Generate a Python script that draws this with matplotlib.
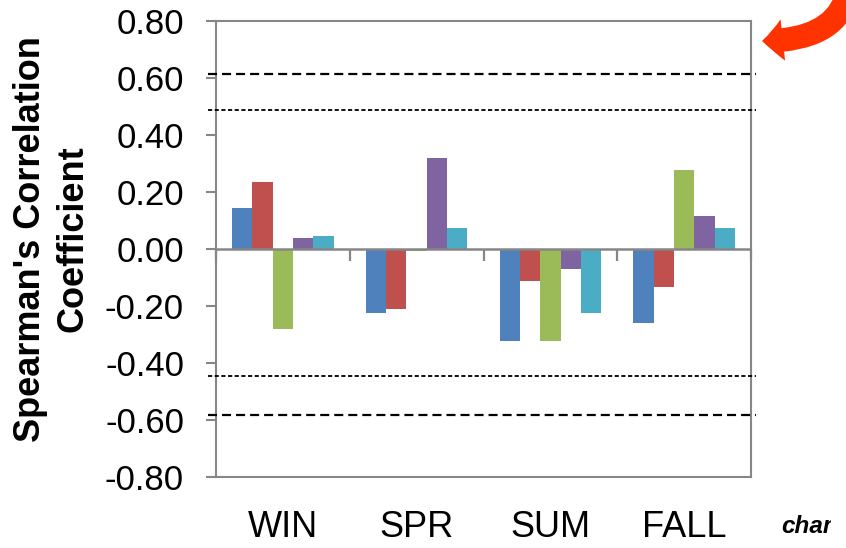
import matplotlib
matplotlib.use("Agg")
import matplotlib.pyplot as plt
import numpy as np
from matplotlib.patches import FancyArrowPatch
from matplotlib.transforms import Bbox, TransformedBbox

plt.rcParams['font.family'] = ['Liberation Sans', 'DejaVu Sans']
plt.rcParams['axes.unicode_minus'] = False
plt.rcParams['lines.scale_dashes'] = False

# Seasonal Spearman correlation coefficients, one list per series
seasons = ["WIN", "SPR", "SUM", "FALL"]
series_blue = [0.144, -0.224, -0.322, -0.259]
series_red = [0.233, -0.210, -0.113, -0.133]
series_green = [-0.280, -0.008, -0.322, 0.275]
series_purple = [0.039, 0.318, -0.071, 0.116]
series_cyan = [0.046, 0.074, -0.224, 0.074]

# Significance thresholds (dashed reference lines)
thresholds_outer = [0.612, -0.583]
thresholds_inner = [0.487, -0.446]

ytick_values = [-0.8, -0.6, -0.4, -0.2, 0.0, 0.2, 0.4, 0.6, 0.8]
ytick_labels = ["-0.80", "-0.60", "-0.40", "-0.20", "0.00", "0.20", "0.40", "0.60", "0.80"]

colors = ["#4F81BD", "#C0504D", "#9BBB59", "#8064A2", "#4BACC6"]
grey = "#868686"

W, H = 846, 548
fig = plt.figure(figsize=(W / 100, H / 100), dpi=100)
ax = fig.add_axes([216 / W, 1 - 477 / H, (751 - 216) / W, (477 - 20.5) / H])

x = np.arange(len(seasons))
bar_w = 0.152
all_series = [series_blue, series_red, series_green, series_purple, series_cyan]
for i, (vals, c) in enumerate(zip(all_series, colors)):
    ax.bar(x + (i - 2) * bar_w, vals, width=bar_w, color=c, linewidth=0, zorder=2)

ax.set_xlim(-0.5, len(seasons) - 0.5)
ax.set_ylim(-0.8, 0.8)

# zero axis line with category divider ticks
ax.axhline(0, color=grey, lw=1.8, zorder=3)
bounds = np.arange(len(seasons) + 1) - 0.5
ax.vlines(bounds, -0.042, 0, color=grey, lw=1.6, zorder=3, clip_on=False)

# dashed threshold lines, running slightly past the frame
x_ext = [-0.56, len(seasons) - 0.46]
for v in thresholds_outer:
    ax.plot(x_ext, [v, v], color="black", lw=1.6, dashes=(6.5, 3.6),
            clip_on=False, zorder=4)
for v in thresholds_inner:
    ax.plot(x_ext, [v, v], color="black", lw=1.3, dashes=(3.0, 1.8),
            clip_on=False, zorder=4)

for s in ax.spines.values():
    s.set_color(grey)
    s.set_linewidth(1.5)

ax.set_yticks(ytick_values, ytick_labels)
ax.tick_params(axis="y", length=7, width=1.5, color=grey, pad=16,
               labelsize=25, labelcolor="black")
ax.set_xticks(x, seasons)
ax.tick_params(axis="x", length=0, pad=24, labelsize=26, labelcolor="black")

# two-line rotated axis title
ycen = 1 - 239 / H
fig.text(40.3 / W, ycen, "Spearman's Correlation", rotation=90,
         rotation_mode="anchor", ha="center", va="baseline",
         fontsize=26, fontweight="bold")
fig.text(83 / W, ycen, "Coefficient", rotation=90,
         rotation_mode="anchor", ha="center", va="baseline",
         fontsize=26, fontweight="bold")

# partially hidden caption at lower right
cap = fig.text(781.7 / W, 1 - 533 / H, "char", fontsize=17.5,
               fontweight="bold", style="italic", va="baseline", ha="left")
cap.set_clip_box(TransformedBbox(Bbox([[0, 0], [831 / W, 1]]), fig.transFigure))
cap.set_clip_on(True)

# curved pointer arrow entering from the top right
arrow = FancyArrowPatch(
    posA=(848 / W, 1 + 10 / H), posB=(762 / W, 1 - 41 / H),
    transform=fig.transFigure,
    connectionstyle="angle3,angleA=80,angleB=0",
    arrowstyle="simple,head_length=15,head_width=30,tail_width=17",
    mutation_scale=1, shrinkA=0, shrinkB=0,
    color="#FF3300", linewidth=0)
fig.add_artist(arrow)

fig.savefig("out.png", dpi=100)
